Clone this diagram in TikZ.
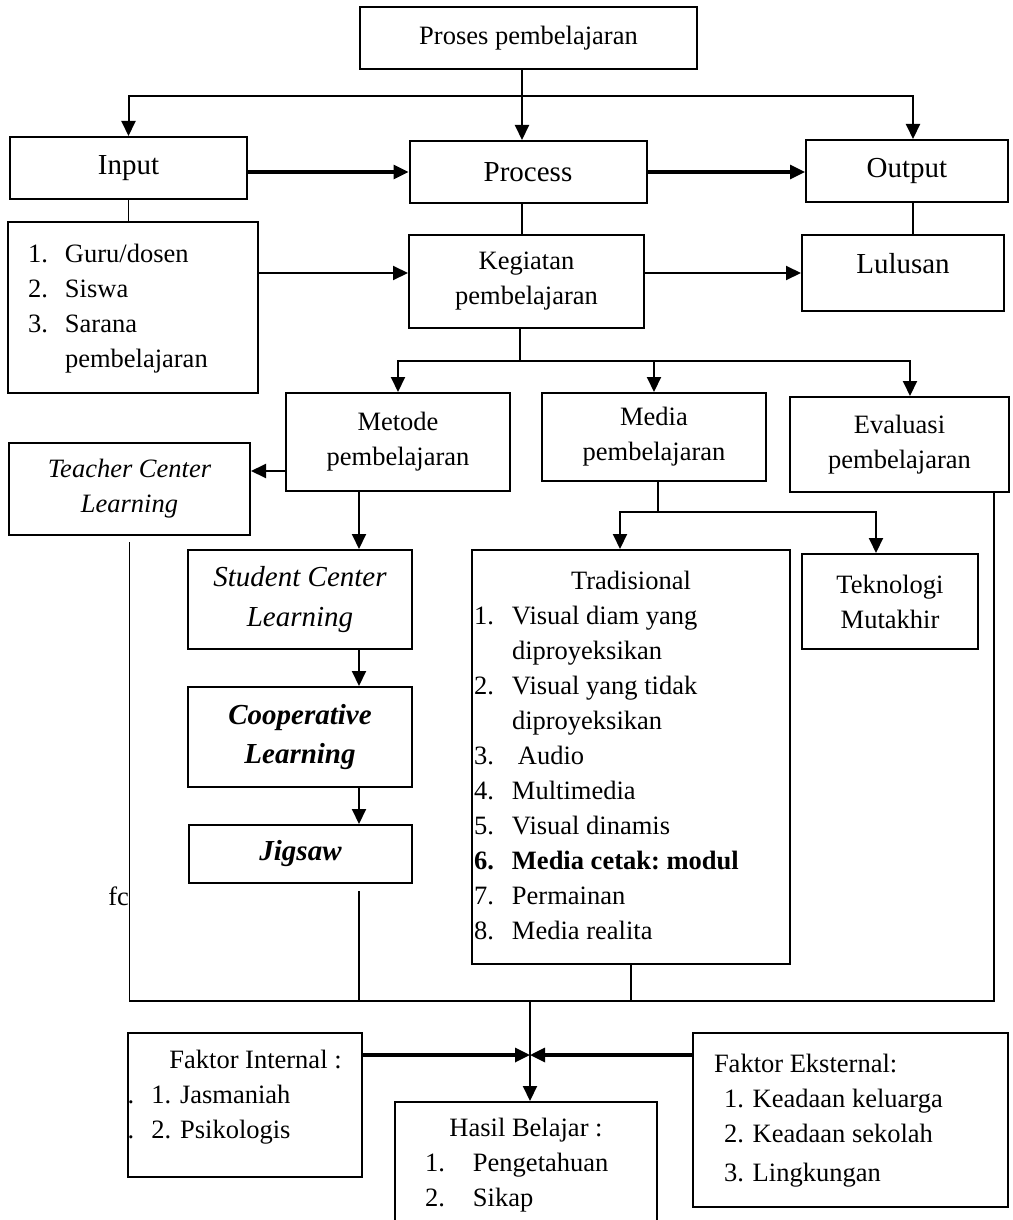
\documentclass[tikz,border=0pt]{standalone}
\usepackage{fontspec}
\setmainfont{Liberation Serif}
\usetikzlibrary{arrows.meta}
\newcommand{\txtfont}{\fontsize{13.25}{17.5}\selectfont}
\newcommand{\lblfont}{\fontsize{14.5}{19.5}\selectfont}

\begin{document}
\begin{tikzpicture}[x=0.5pt, y=-0.5pt,
    box/.style={draw, line width=1pt, inner sep=0pt, align=center, font=\txtfont},
    link/.style={line width=0.75pt},
    arrow/.style={-{Triangle[width=7pt,length=7.5pt]}, line width=1pt},
    thickarrow/.style={-{Triangle[width=7pt,length=7.5pt]}, line width=1.6pt},
]
\useasboundingbox (0,0) rectangle (1012,1220);
\clip (0,0) rectangle (1012,1220);

% top level
\node[box, minimum width=168.5pt, minimum height=31pt] (proses) at (528.5,38) {Proses pembelajaran};
\node[box, font=\lblfont, minimum width=118.5pt, minimum height=31pt] (input) at (128.5,168) {Input};
\node[box, font=\lblfont, minimum width=118.5pt, minimum height=31pt] (process) at (528,172) {Process};
\node[box, font=\lblfont, minimum width=101pt, minimum height=31pt] (output) at (907,171) {Output};

\node[box, minimum width=125pt, minimum height=85.5pt] (guru) at (133,307.5)
  {\begin{tabular}{@{\hspace{10pt}}p{18.5pt}@{}p{96.5pt}@{}}
   1. & Guru/dosen\\ 2. & Siswa\\ 3. & Sarana\\ & pembelajaran
   \end{tabular}};
\node[box, minimum width=117.5pt, minimum height=46.5pt] (kegiatan) at (526.5,281.5) {Kegiatan\\pembelajaran};
\node[box, font=\lblfont, minimum width=101pt, minimum height=38pt] (lulusan) at (903,273) {\raisebox{10pt}{Lulusan}};

% kegiatan branches
\node[box, minimum width=112pt, minimum height=49pt] (metode) at (398,442) {Metode\\pembelajaran};
\node[box, minimum width=112pt, minimum height=44pt] (media) at (654,437) {Media\\pembelajaran};
\node[box, minimum width=109.5pt, minimum height=47.5pt] (evaluasi) at (899.5,444.5) {Evaluasi\\pembelajaran};

\node[box, font=\txtfont\itshape, minimum width=120.5pt, minimum height=46pt] (teacher) at (129.5,489) {Teacher Center\\Learning};
\node[box, font=\fontsize{14.5}{20}\selectfont\itshape, minimum width=112pt, minimum height=49.5pt] (student) at (300,599.5) {Student Center\\Learning};
\node[box, font=\lblfont\bfseries\itshape, minimum width=112pt, minimum height=50pt] (coop) at (300,737) {Cooperative\\Learning};
\node[box, font=\lblfont\bfseries\itshape, minimum width=111.5pt, minimum height=29pt] (jigsaw) at (300.5,854) {Jigsaw};

\node[box, minimum width=159pt, minimum height=207pt] (tradisional) at (631,757)
  {\begin{tabular}{@{\hspace{1pt}}p{19pt}@{}p{139pt}@{}}
   \multicolumn{2}{@{}c@{}}{Tradisional}\\
   1. & Visual diam yang\\ & diproyeksikan\\
   2. & Visual yang tidak\\ & diproyeksikan\\
   3. & \hspace*{3pt}Audio\\
   4. & Multimedia\\
   5. & Visual dinamis\\
   \textbf{6.} & \textbf{Media cetak:\ modul}\\
   7. & Permainan\\
   8. & Media realita
   \end{tabular}};
\node[box, minimum width=88pt, minimum height=47.5pt] (teknologi) at (890,601.5) {Teknologi\\Mutakhir};

\node[font=\txtfont, anchor=base west, inner sep=0pt] (fc) at (108,905) {fc};

% bottom
\node[box, minimum width=117pt, minimum height=72pt] (internal) at (245,1105) {};
\begin{scope}
  \clip (internal.south west) rectangle (internal.north east);
  \node[font=\txtfont, anchor=north west, inner sep=0pt] (internaltext) at (114,1043.5)
    {\begin{tabular}{@{}l@{}}
     \hspace*{27.5pt}Faktor Internal :\\
     \makebox[18.5pt][l]{1.}1. Jasmaniah\\
     \makebox[18.5pt][l]{2.}2. Psikologis
     \end{tabular}};
\end{scope}
\node[box, minimum width=157.5pt, minimum height=87pt] (eksternal) at (850.5,1120)
  {\begin{tabular}{@{\hspace{10.5pt}}p{147pt}@{}}
   Faktor Eksternal:\\
   \hspace*{5pt}1. Keadaan keluarga\\
   \hspace*{5pt}2. Keadaan sekolah\\[2pt]
   \hspace*{5pt}3. Lingkungan
   \end{tabular}};
\node[box, anchor=north, minimum width=131pt, minimum height=62pt] (hasil) at (526,1101)
  {\begin{tabular}{@{\hspace{15pt}}p{24pt}@{}p{92pt}@{}}
   \multicolumn{2}{@{}c@{}}{Hasil Belajar :}\\
   1. & Pengetahuan\\ 2. & Sikap
   \end{tabular}};

% connectors
\coordinate (tsplit) at (522,96);
\coordinate (ocol) at (913,0);
\coordinate (midrow) at (0,273);
\coordinate (ksplit) at (520,361);
\coordinate (vcol) at (910,0);
\coordinate (trow) at (0,471);
\coordinate (mcol) at (359,0);
\coordinate (msplit) at (658,512);
\coordinate (tcol) at (620,0);
\coordinate (kcol) at (876,0);
\coordinate (jtop) at (359,891);
\coordinate (bjoin) at (530,1001);
\coordinate (ecol) at (994,0);
\coordinate (frow) at (530,1055);

\draw[link] (proses.south -| tsplit) -- (tsplit);
\draw[arrow] (tsplit) -| (input.north);
\draw[arrow] (tsplit) -- (tsplit |- process.north);
\draw[arrow] (tsplit) -| (output.north -| ocol);
\draw[thickarrow] (input.east |- process.west) -- (process.west);
\draw[thickarrow] (process.east) -- (output.west |- process.east);

\draw[link] (input.south) -- (input.south |- guru.north);
\draw[link] (tsplit |- process.south) -- (tsplit |- kegiatan.north);
\draw[link] (output.south -| ocol) -- (lulusan.north -| ocol);
\draw[arrow] (guru.east |- midrow) -- (kegiatan.west |- midrow);
\draw[arrow] (kegiatan.east |- midrow) -- (lulusan.west |- midrow);

\draw[link] (kegiatan.south -| ksplit) -- (ksplit);
\draw[arrow] (ksplit) -| (metode.north);
\draw[arrow] (ksplit) -| (media.north);
\draw[arrow] (ksplit) -| (evaluasi.north -| vcol);

\draw[arrow] (metode.west |- trow) -- (teacher.east |- trow);
\draw[arrow] (metode.south -| mcol) -- (student.north -| mcol);
\draw[arrow] (student.south -| mcol) -- (coop.north -| mcol);
\draw[arrow] (coop.south -| mcol) -- (jigsaw.north -| mcol);

\draw[link] (media.south -| msplit) -- (msplit);
\draw[arrow] (msplit) -| (tradisional.north -| tcol);
\draw[arrow] (msplit) -| (teknologi.north -| kcol);

\draw[link] ([yshift=-3pt]teacher.south) |- (ecol |- bjoin) -- (ecol |- evaluasi.south);
\draw[link] (jtop) -- (mcol |- bjoin);
\draw[link] (tradisional.south) -- (tradisional.south |- bjoin);
\draw[arrow] (bjoin) -- (bjoin |- hasil.north);
\draw[thickarrow] (internal.east |- frow) -- (frow);
\draw[thickarrow] (eksternal.west |- frow) -- (frow);
\end{tikzpicture}
\end{document}
